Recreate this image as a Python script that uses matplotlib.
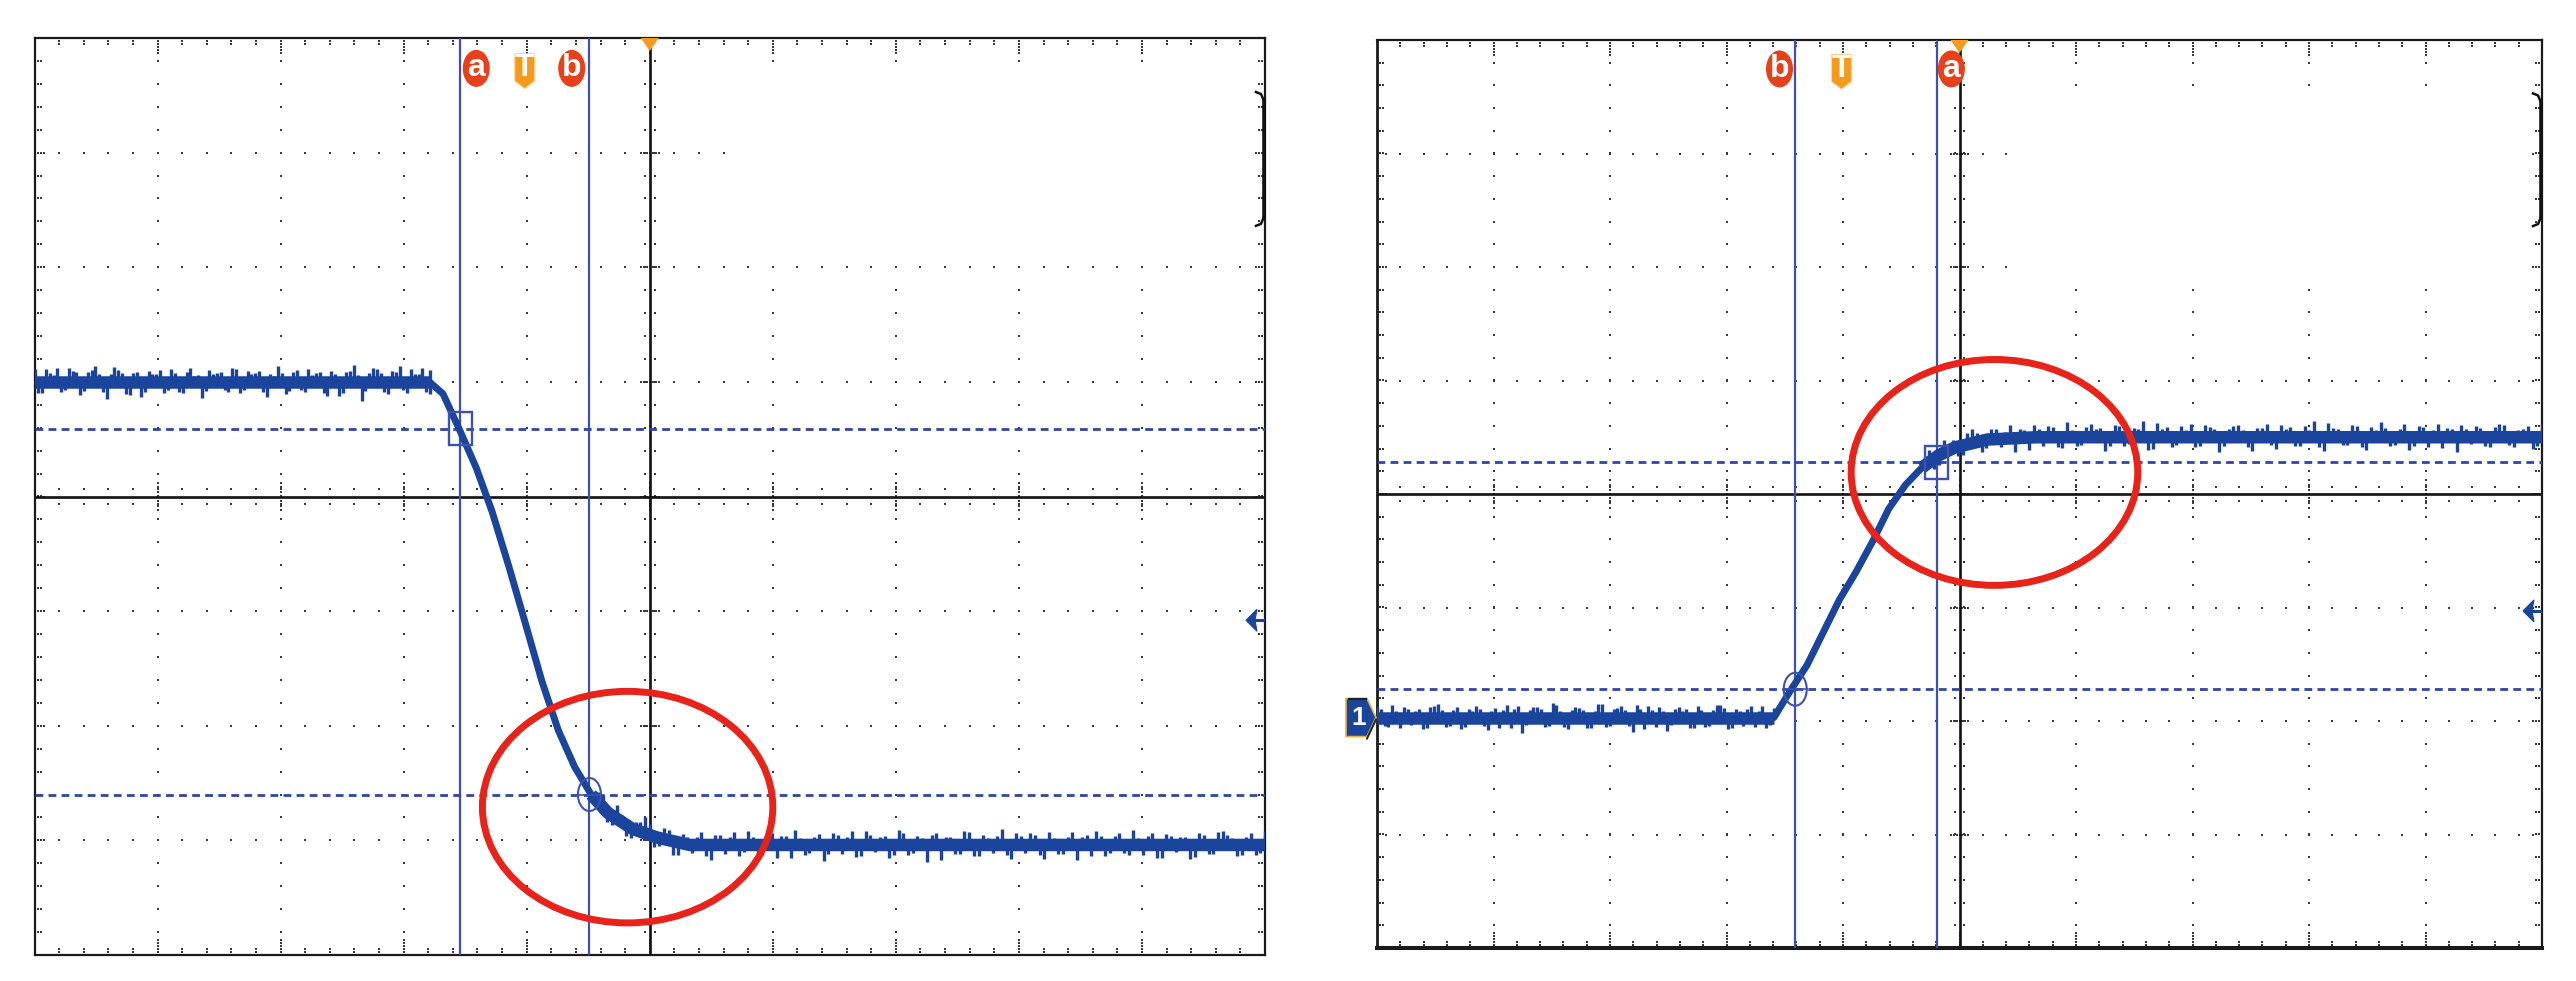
import numpy as np
import matplotlib
matplotlib.use("Agg")
import matplotlib.pyplot as plt
from matplotlib.patches import Ellipse, Rectangle, Polygon

# CONSTANTS
WIDTH, HEIGHT = 2576, 981
TRACE = "#1B449C"
CURSOR = "#3D52AE"
RED = "#E8231A"
LETTER = "#E8401A"
ORANGE = "#F59A1C"
DOT = "#3a3a3a"

# Trace shapes, in scope divisions
left_edge_t = [-1.785, -1.68, -1.545, -1.41, -1.28, -1.145, -1.01, -0.877, -0.743, -0.61,
               -0.476, -0.34, -0.14, 0.06, 0.325, 0.6]
left_edge_v = [0.995, 0.895, 0.58, 0.25, -0.136, -0.61, -1.11, -1.61, -2.04, -2.36,
               -2.6, -2.76, -2.9, -2.975, -3.04, -3.04]
right_edge_t = [-1.593, -1.45, -1.31, -1.17, -1.03, -0.89, -0.747, -0.607, -0.464, -0.325,
                -0.18, -0.04, 0.24, 0.66, 1.0]
right_edge_v = [-1.97, -1.73, -1.51, -1.22, -0.93, -0.69, -0.42, -0.13, 0.08, 0.23,
                0.34, 0.41, 0.48, 0.5, 0.5]

# Noise spikes around the flat parts of the traces
left_before = [0.12, -0.09, 0.08, 0.13, -0.07, 0.1, -0.11, 0.09, 0.14, -0.08, 0.07, 0.11, -0.1, 0.08, -0.13,
               0.1, 0.07, -0.09, 0.12, -0.08, 0.09, 0.06, -0.14, 0.11, 0.08, -0.07, 0.13, -0.09, 0.1, 0.08,
               -0.08, 0.07, 0.14, -0.1, 0.09, -0.07, 0.12, 0.08, -0.09, 0.1, -0.12, 0.09, 0.15, -0.16, 0.08,
               0.12, -0.08, 0.1, 0.14, -0.09, 0.07, 0.13, -0.1]
left_after = [0.09, -0.08, 0.12, -0.1, 0.07, 0.14, -0.09, 0.1, -0.12, 0.08, -0.07, 0.11, -0.13, 0.09, 0.07,
              -0.1, 0.12, -0.08, 0.09, -0.11, 0.08, 0.13, -0.09, 0.07, -0.14, 0.1, -0.08, 0.12, -0.1, 0.09,
              0.07, -0.11, 0.13, -0.09, 0.08, -0.15, 0.1, 0.07, -0.08, 0.12, -0.1, 0.09, -0.07, 0.14, -0.12,
              0.08, 0.1, -0.09, 0.11, -0.08, 0.07, -0.13, 0.09, 0.12, -0.1, 0.08, -0.07, 0.13, -0.09, 0.1,
              -0.11, 0.08, 0.07, -0.12, 0.1, -0.08, 0.11, 0.09, -0.1, 0.07, -0.09, 0.12]
right_before = [0.09, -0.07, 0.11, -0.09, 0.08, 0.06, -0.1, 0.09, 0.12, -0.08, 0.07, -0.1, 0.08, 0.1, -0.07,
                0.06, -0.09, 0.11, 0.08, -0.14, 0.07, 0.09, -0.08, 0.13, 0.06, -0.1, 0.09, 0.07, -0.09, 0.12,
                -0.08, 0.08, 0.1, -0.07, 0.11, -0.1, 0.07, 0.09, -0.12, 0.08, 0.06, -0.09, 0.1, -0.08, 0.07,
                0.11, -0.1, 0.08, -0.07, 0.1, 0.06, -0.09, 0.08]
right_after = [0.08, -0.09, 0.11, 0.07, -0.08, 0.13, -0.1, 0.09, -0.07, 0.12, 0.08, -0.11, 0.07, 0.1, -0.09,
               0.13, -0.08, 0.09, 0.07, -0.12, 0.11, -0.08, 0.08, 0.14, -0.1, 0.07, -0.09, 0.1, 0.12, -0.08,
               0.09, -0.13, 0.07, 0.11, -0.09, 0.08, 0.12, -0.1, 0.07, -0.08, 0.1, 0.14, -0.12, 0.08, -0.07,
               0.11, -0.09, 0.09, 0.13, -0.08, 0.07, -0.11, 0.1, -0.09, 0.12, 0.08, -0.13, 0.07, 0.1, -0.08,
               0.09, 0.11, -0.09, 0.07, -0.1, 0.12]

# Pixel boxes of the two scopes (left, right, top, bottom)
SCOPES = [
    {"box": (34.5, 1265, 38, 955), "before": left_before, "after": left_after,
     "edge_t": left_edge_t, "edge_v": left_edge_v, "after_start": -0.42, "tail_from": 10,
     "square": (-1.54, 0.59), "circle": (-0.49, -2.6),
     "letters": {"a": (-1.41, 3.735), "T": (-1.016, 3.71), "b": (-0.634, 3.735)},
     "red": (-0.18, -2.71, 2.36, 2.02), "arrow_v": -1.08, "blank": (0.65, 2.1, 3.7)},
    {"box": (1377, 2542, 40, 948), "before": right_before, "after": right_after,
     "edge_t": right_edge_t, "edge_v": right_edge_v, "after_start": -0.3, "tail_from": 9,
     "square": (-0.197, 0.28), "circle": (-1.41, -1.72),
     "letters": {"b": (-1.545, 3.745), "T": (-1.013, 3.72), "a": (-0.07, 3.745)},
     "red": (0.30, 0.19, 2.46, 1.99), "arrow_v": -1.03, "blank": (0.45, 1.9, 3.5)},
]


def draw_grid(ax, blank):
    minor_x = np.arange(-4.8, 4.81, 0.2)
    minor_y = np.arange(-3.8, 3.81, 0.2)
    major_x = np.arange(-4, 4.01, 1)
    major_y = np.arange(-3, 3.01, 1)
    xs, ys = [], []

    def add(x, y):
        # the scope blanks a box of its graticule in the upper right
        if blank[0] < x < 4.9 and blank[1] < y < blank[2]:
            return
        xs.append(x)
        ys.append(y)

    for x in major_x:
        for y in minor_y:
            if x != 0:
                add(x, y)
    for y in major_y:
        for x in minor_x:
            if y != 0:
                add(x, y)
    # ticks hugging the centre axes
    for y in minor_y:
        for dx in (-0.04, 0.04):
            xs.append(dx)
            ys.append(y)
    for y in major_y:
        for dx in (-0.075, -0.05, -0.025, 0.025, 0.05, 0.075):
            xs.append(dx)
            ys.append(y)
    for x in minor_x:
        for dy in (-0.065, 0.065):
            xs.append(x)
            ys.append(dy)
    for x in major_x:
        for dy in (-0.12, -0.08, -0.035, 0.035, 0.08, 0.12):
            xs.append(x)
            ys.append(dy)
    # ticks hugging the frame
    for x in minor_x:
        for y0, sign in ((4, -1), (-4, 1)):
            for d in (0.026, 0.052):
                xs.append(x)
                ys.append(y0 + sign * d)
    for x in major_x:
        for y0, sign in ((4, -1), (-4, 1)):
            for d in (0.08, 0.105, 0.13):
                xs.append(x)
                ys.append(y0 + sign * d)
    for y in minor_y:
        for x0, sign in ((5, -1), (-5, 1)):
            for d in (0.025, 0.05):
                xs.append(x0 + sign * d)
                ys.append(y)
    for y in major_y:
        for x0, sign in ((5, -1), (-5, 1)):
            xs.append(x0 + sign * 0.075)
            ys.append(y)
    ax.plot(xs, ys, ls="", marker="s", ms=1.6, mew=0, color=DOT, zorder=1)
    ax.axhline(0, color="#111111", lw=1.9, zorder=2)
    ax.axvline(0, color="#111111", lw=1.9, zorder=2)


def draw_trace(ax, scope):
    edge_t = scope["edge_t"]
    edge_v = scope["edge_v"]
    tail = scope["tail_from"]
    core_t = np.array([-5] + edge_t + [5])
    core_v = np.array([edge_v[0]] + edge_v + [edge_v[-1]])

    # thick band on the flats, thinner on the fast edge
    ax.plot(core_t, core_v, color=TRACE, lw=5.0, zorder=4, solid_joinstyle="round")
    ax.plot([-5, edge_t[0]], [edge_v[0], edge_v[0]], color=TRACE, lw=9.0, zorder=4, solid_capstyle="butt")
    ax.plot(list(edge_t[tail:]) + [5], list(edge_v[tail:]) + [edge_v[-1]], color=TRACE, lw=9.0, zorder=4,
            solid_capstyle="butt")

    for dev, start, end in ((scope["before"], -5, edge_t[0]), (scope["after"], scope["after_start"], 5)):
        dev = np.array(dev)
        t = np.linspace(start, end, len(dev))
        step = t[1] - t[0]
        base = np.interp(t, core_t, core_v)
        ax.vlines(t, base, base + dev, color=TRACE, lw=2.4, zorder=4)
        t2 = np.clip(t + step / 2, -5, end)
        base2 = np.interp(t2, core_t, core_v)
        ax.vlines(t2, base2, base2 + dev[::-1] * 0.9, color=TRACE, lw=2.4, zorder=4)


def draw_cursors(ax, scope, px_x, px_y):
    sq_x, sq_y = scope["square"]
    ci_x, ci_y = scope["circle"]
    for x in (sq_x, ci_x):
        ax.axvline(x, color=CURSOR, lw=1.6, zorder=3)
    for y in (sq_y, ci_y):
        ax.axhline(y, color="#2F45A8", lw=2.0, ls=(0, (2.8, 1.9)), zorder=3)
    w, h = 23 * px_x, 33 * px_y
    ax.add_patch(Rectangle((sq_x - w / 2, sq_y - h / 2), w, h, fill=False, ec=CURSOR, lw=1.7, zorder=5))
    ax.add_patch(Ellipse((ci_x, ci_y), w, h, fill=False, ec=CURSOR, lw=1.5, zorder=5))
    ax.plot([ci_x - w / 2, ci_x + w / 2], [ci_y, ci_y], color=CURSOR, lw=1.2, zorder=5)


def draw_letters(ax, scope, px_x, px_y):
    top = 4.0
    w, h = 18 * px_x, 13 * px_y
    ax.add_patch(Polygon([(-w / 2, top), (w / 2, top), (0, top - h)], fc=ORANGE, ec="none", zorder=6, clip_on=False))
    for name, (x, y) in scope["letters"].items():
        if name == "T":
            w, h = 20 * px_x, 35 * px_y
            shape = [(-w / 2, h / 2), (w / 2, h / 2), (w / 2, -h * 0.28), (0, -h / 2), (-w / 2, -h * 0.28)]
            ax.add_patch(Polygon([(x + a, y + b) for a, b in shape], fc=ORANGE, ec="#FBD9A0", lw=0.8, zorder=7))
            ty = y + 3 * px_y
        else:
            ax.add_patch(Ellipse((x, y), 27 * px_x, 37 * px_y, fc=LETTER, ec="none", zorder=7))
            ty = y
        ax.text(x, ty, name, color="white", fontsize=23, fontweight="bold", ha="center", va="center",
                family="Liberation Sans", zorder=8)


def draw_extras(ax, scope, px_x, px_y):
    # red highlight
    cx, cy, w, h = scope["red"]
    ax.add_patch(Ellipse((cx, cy), w, h, fill=False, ec=RED, lw=5, zorder=9))
    # channel arrow at the right side
    y = scope["arrow_v"]
    tip = 5 - 19 * px_x
    ax.add_patch(Polygon([(tip, y), (tip + 11 * px_x, y + 11 * px_y), (tip + 9 * px_x, y), (tip + 11 * px_x, y - 11 * px_y)],
                         fc=TRACE, ec=TRACE, lw=0.8, zorder=6))
    ax.plot([tip + 8 * px_x, 5], [y, y], color=TRACE, lw=2.2, zorder=6, solid_capstyle="butt")
    # bracket at the right edge
    edge = 5 - 1 * px_x
    top_v, bot_v = 3.45, 2.44
    ax.plot([edge - 8 * px_x, edge - 3 * px_x, edge], [top_v + 9 * px_y, top_v + 7 * px_y, top_v],
            color="#111111", lw=1.8, zorder=6, clip_on=False)
    ax.plot([edge - 8 * px_x, edge - 3 * px_x, edge], [bot_v - 9 * px_y, bot_v - 7 * px_y, bot_v],
            color="#111111", lw=1.8, zorder=6, clip_on=False)
    ax.plot([edge, edge], [bot_v, top_v], color="#111111", lw=2.6, zorder=6, clip_on=False)


def draw_scope(fig, scope):
    l, r, t, b = scope["box"]
    ax = fig.add_axes([l / WIDTH, 1 - b / HEIGHT, (r - l) / WIDTH, (b - t) / HEIGHT])
    ax.set_xlim(-5, 5)
    ax.set_ylim(-4, 4)
    ax.set_xticks([])
    ax.set_yticks([])
    for side, spine in ax.spines.items():
        spine.set_linewidth(1.6)
        spine.set_color("#1a1a1a")
    px_x = 10 / (r - l)
    px_y = 8 / (b - t)
    draw_grid(ax, scope["blank"])
    draw_trace(ax, scope)
    draw_cursors(ax, scope, px_x, px_y)
    draw_letters(ax, scope, px_x, px_y)
    draw_extras(ax, scope, px_x, px_y)
    return ax, px_x, px_y


def main():
    fig = plt.figure(figsize=(WIDTH / 100, HEIGHT / 100), dpi=100, facecolor="white")
    axes = [draw_scope(fig, s) for s in SCOPES]

    # right scope has a heavier frame and the channel 1 flag
    ax, px_x, px_y = axes[1]
    ax.spines["bottom"].set_linewidth(2.9)
    ax.spines["left"].set_linewidth(2.0)
    y = right_edge_v[0]
    x = -5
    flag = [(x - 31 * px_x, y + 19 * px_y), (x - 10 * px_x, y + 19 * px_y), (x - 1 * px_x, y),
            (x - 10 * px_x, y - 19 * px_y), (x - 31 * px_x, y - 19 * px_y)]
    ax.add_patch(Polygon(flag, fc=TRACE, ec="#E6B33C", lw=1.2, zorder=8, clip_on=False))
    ax.plot([x - 28 * px_x, x - 11 * px_x], [y + 19 * px_y, y + 19 * px_y], color="#222222", lw=1.6, zorder=9, clip_on=False)
    ax.plot([x - 1 * px_x, x - 10 * px_x], [y - 2 * px_y, y - 21 * px_y], color="#222222", lw=1.4, zorder=9, clip_on=False)
    ax.text(x - 18 * px_x, y, "1", color="white", fontsize=19, fontweight="bold", ha="center", va="center",
            family="Liberation Sans", zorder=9, clip_on=False)

    fig.savefig("out.png", dpi=100)
    plt.close(fig)


if __name__ == "__main__":
    main()
